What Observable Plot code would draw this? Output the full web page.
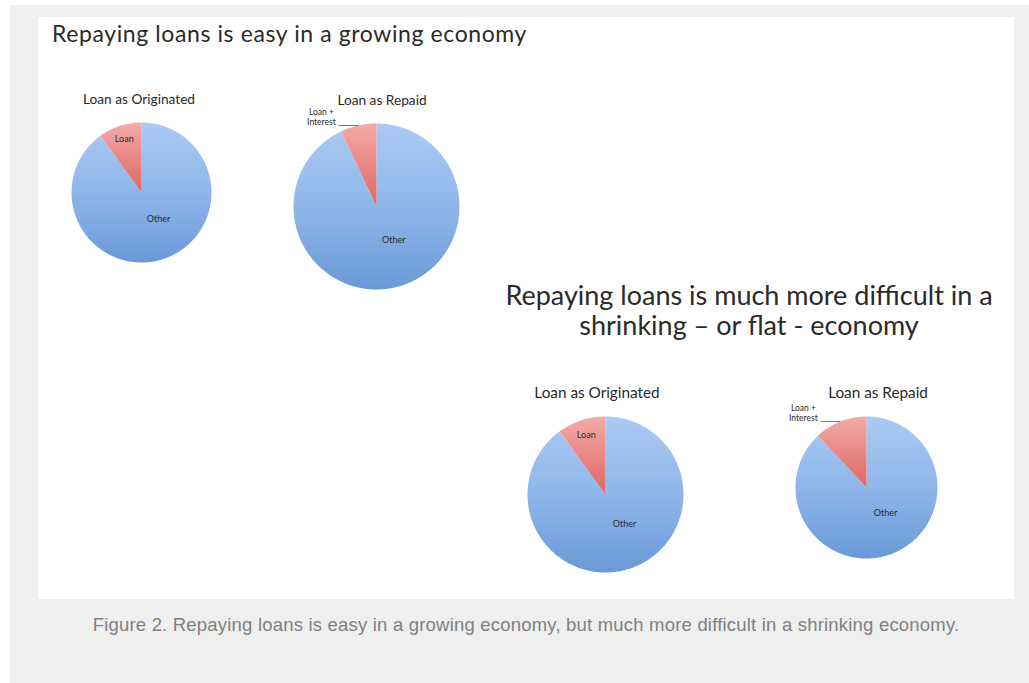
<!DOCTYPE html>
<html>
<head>
<meta charset="utf-8">
<script src="https://cdn.jsdelivr.net/npm/d3@7"></script>
<script src="https://cdn.jsdelivr.net/npm/@observablehq/plot@0.6"></script>
<style>
  body { margin: 0; background: #ffffff; }
  #page { position: relative; width: 1029px; height: 683px; overflow: hidden; background: #ffffff; }
  #gray { position: absolute; left: 10px; top: 5px; width: 1019px; height: 678px; background: #efefef; }
  #panel { position: absolute; left: 38px; top: 17px; width: 976px; height: 582px; background: #ffffff; }
  .t { position: absolute; font-family: Lato, "Open Sans", sans-serif; color: #2a2a2a; white-space: pre; }
  .c { transform: translateX(-50%); text-align: center; }
  .pie { position: absolute; }
  .pie svg { overflow: visible; }
  #caption { position: absolute; left: 526px; top: 614px; transform: translateX(-50%); white-space: nowrap;
             font-family: "Helvetica Neue", Helvetica, "Liberation Sans", Arial, sans-serif; font-size: 18.5px;
             letter-spacing: 0.2px; line-height: 22px; color: #808080; }
</style>
</head>
<body>
<svg width="0" height="0" style="position:absolute">
  <defs>
    <linearGradient id="gBlue" x1="0" y1="0" x2="0" y2="1">
      <stop offset="0" stop-color="#abcaf3"/>
      <stop offset="0.5" stop-color="#8fb6ea"/>
      <stop offset="1" stop-color="#6a99d7"/>
    </linearGradient>
    <linearGradient id="gRed" x1="0" y1="0" x2="0" y2="1">
      <stop offset="0" stop-color="#f4aba8"/>
      <stop offset="1" stop-color="#dd6663"/>
    </linearGradient>
  </defs>
</svg>
<div id="page">
  <div id="gray"></div>
  <div id="panel"></div>
</div>
<script>
// ---------------- data ----------------
const categories = ["Other", "Loan"];
const pieTitles = ["Loan as Originated", "Loan as Repaid", "Loan as Originated", "Loan as Repaid"];
const otherShare = [90, 93, 90, 88];
const loanShare = [10, 7, 10, 12];
const loanLabel = ["Loan", "Loan +\nInterest", "Loan", "Loan +\nInterest"];
const otherLabel = "Other";
const headings = [
  "Repaying loans is easy in a growing economy",
  "Repaying loans is much more difficult in a\nshrinking – or flat - economy"
];
const captionText = "Figure 2. Repaying loans is easy in a growing economy, but much more difficult in a shrinking economy.";

// ---------------- layout ----------------
const pieLayout = [
  {cx: 141, cy: 192, r: 70, tx: 139, ty: 91, fs: 13.7, outside: false},
  {cx: 376, cy: 206, r: 83, tx: 382, ty: 92, fs: 13.7, outside: true},
  {cx: 605, cy: 494, r: 78, tx: 597, ty: 384, fs: 15.3, outside: false},
  {cx: 866, cy: 487, r: 71, tx: 878, ty: 384, fs: 15.3, outside: true}
];
const M = {l: 70, r: 10, t: 30, b: 10};

const page = document.getElementById("page");

function addText(cls, txt, style) {
  const d = document.createElement("div");
  d.className = cls;
  d.textContent = txt;
  Object.assign(d.style, style);
  page.appendChild(d);
  return d;
}

addText("t", headings[0], {left: "52px", top: "20px", fontSize: "23px", lineHeight: "26px", letterSpacing: "0.6px"});
addText("t c", headings[1], {left: "749px", top: "280px", fontSize: "27px", lineHeight: "30px"});

function makePie(i) {
  const L = pieLayout[i];
  const rows = categories.map((c, k) => ({
    cat: c,
    value: k === 0 ? otherShare[i] : loanShare[i],
    label: k === 0 ? otherLabel : loanLabel[i],
    grad: k === 0 ? "url(#gBlue)" : "url(#gRed)"
  }));
  const arcs = d3.pie().sort(null).value(d => d.value).startAngle(0).endAngle(2 * Math.PI)(rows);
  const poly = arcs.flatMap(a => {
    const n = Math.max(4, Math.ceil((a.endAngle - a.startAngle) / 0.01));
    return [{cat: a.data.cat, grad: a.data.grad, x: 0, y: 0}].concat(
      d3.range(n + 1).map(k => {
        const t = a.startAngle + (a.endAngle - a.startAngle) * k / n;
        return {cat: a.data.cat, grad: a.data.grad, x: Math.sin(t), y: Math.cos(t)};
      })
    );
  });
  const other = arcs[0], loan = arcs[1];
  const oMid = (other.startAngle + other.endAngle) / 2 - 0.26;
  const lMid = (loan.startAngle + loan.endAngle) / 2;
  const inner = [{label: other.data.label, x: 0.45 * Math.sin(oMid), y: 0.45 * Math.cos(oMid)}];
  const lead = 20 / L.r; // leader length in data units
  const outer = [];
  if (L.outside) {
    outer.push({label: loan.data.label, x1: Math.sin(lMid), y1: Math.cos(lMid),
                x2: Math.sin(lMid) - lead, y2: Math.cos(lMid)});
  } else {
    inner.push({label: loan.data.label, x: 0.8 * Math.sin(lMid), y: 0.8 * Math.cos(lMid)});
  }
  const w = 2 * L.r + M.l + M.r, h = 2 * L.r + M.t + M.b;
  const chart = Plot.plot({
    width: w, height: h,
    marginLeft: M.l, marginRight: M.r, marginTop: M.t, marginBottom: M.b,
    x: {domain: [-1, 1], axis: null},
    y: {domain: [-1, 1], axis: null},
    color: {type: "identity"},
    style: {background: "transparent", overflow: "visible"},
    marks: [
      Plot.line(poly, {x: "x", y: "y", z: "cat", fill: "grad", stroke: "none", curve: "linear-closed"}),
      Plot.text(inner, {x: "x", y: "y", text: "label", fontSize: 9, fill: "#2a2a2a",
                        fontFamily: "Lato, 'Open Sans', sans-serif"}),
      Plot.link(outer, {x1: "x1", y1: "y1", x2: "x2", y2: "y2", stroke: "#555", strokeWidth: 0.8}),
      Plot.text(outer, {x: "x2", y: "y2", text: "label", fontSize: 8.5, fill: "#2a2a2a",
                        fontFamily: "Lato, 'Open Sans', sans-serif", textAnchor: "middle",
                        lineAnchor: "bottom", lineHeight: 1.25, dx: -17, dy: 0})
    ]
  });
  const holder = document.createElement("div");
  holder.className = "pie";
  holder.style.left = (L.cx - L.r - M.l) + "px";
  holder.style.top = (L.cy - L.r - M.t) + "px";
  holder.appendChild(chart);
  page.appendChild(holder);
  addText("t c", pieTitles[i], {left: L.tx + "px", top: L.ty + "px", fontSize: L.fs + "px", lineHeight: "16px"});
}

pieTitles.forEach((_, i) => makePie(i));

const cap = document.createElement("div");
cap.id = "caption";
cap.textContent = captionText;
page.appendChild(cap);
</script>
</body>
</html>
